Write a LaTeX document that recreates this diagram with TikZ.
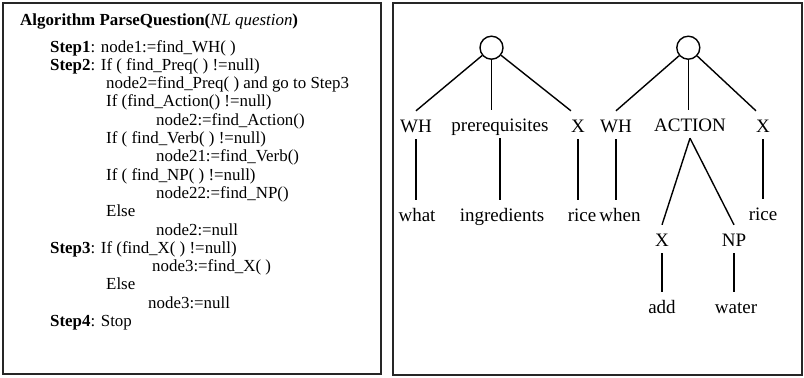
\documentclass[tikz,border=0pt]{standalone}
\usepackage{fontspec}
\setmainfont{Liberation Serif}
\usepackage{tikz}
\usetikzlibrary{positioning,calc}

\begin{document}
\begin{tikzpicture}[x=1bp, y=-1bp,
        frame/.style={draw=black!85, line width=1.6bp},
        codeline/.style={anchor=base west, inner sep=0pt, font=\fontsize{16.9bp}{18.3bp}\selectfont},
        root/.style={draw, circle, minimum size=23bp, inner sep=0pt, line width=1.4bp},
        lbl/.style={anchor=base, inner sep=0pt, text height=21bp, text depth=7bp, font=\fontsize{19bp}{19bp}\selectfont},
        edge/.style={line width=1.4bp}]
        \useasboundingbox (0,0) rectangle (804,377);

        % Frames
        \draw[frame] (3,3) rectangle (381,374);
        \draw[frame] (393,3) rectangle (802,375);

        % Algorithm
        \node (title) [codeline] at (20,25) {\textbf{Algorithm ParseQuestion(}\textit{NL question}\textbf{)}};
        \foreach \dx/\txt [count=\i] in {
            0/{\textbf{Step1}: node1:=find\_WH( )},
            0/{\textbf{Step2}: If ( find\_Preq( ) !=null)},
            56/{node2=find\_Preq( ) and go to Step3},
            56/{If (find\_Action() !=null)},
            106/{node2:=find\_Action()},
            56/{If ( find\_Verb( ) !=null)},
            106/{node21:=find\_Verb()},
            56/{If ( find\_NP( ) !=null)},
            106/{node22:=find\_NP()},
            56/{Else},
            106/{node2:=null},
            0/{\textbf{Step3}: If (find\_X( ) !=null)},
            102/{node3:=find\_X( )},
            56/{Else},
            98/{node3:=null},
            0/{\textbf{Step4}: Stop}}
            \node (line\i) [codeline] at ({50+\dx}, {52+18.3*(\i-1)}) {\txt};

        % Tree 1
        \node (root1) [root] at (491.5,47.7) {};
        \node (wh1) [lbl] at (416,132) {WH};
        \node (prq) [lbl] at (500,131) {prerequisites};
        \node (x1) [lbl] at (578,132) {X};
        \node (what) [lbl] at (417,221) {what};
        \node (ing) [lbl] at (502,221) {ingredients};
        \node (rice1) [lbl] at (582,221) {rice};

        \draw[edge] (root1) -- (wh1.north);
        \draw[edge] (root1) -- (root1 |- prq.north);
        \draw[edge] (root1) -- (x1.north west);
        \draw[edge] (wh1.south) -- (wh1.south |- what.north);
        \draw[edge] (prq.south) -- (prq.south |- ing.north);
        \draw[edge] (x1.south) -- (x1.south |- rice1.north);

        % Tree 2
        \node (root2) [root] at (688.3,47.7) {};
        \node (wh2) [lbl] at (616,132) {WH};
        \node (act) [lbl] at (690,131) {ACTION};
        \node (x2) [lbl] at (763,132) {X};
        \node (when) [lbl] at (620,221) {when};
        \node (rice2) [lbl] at (763,220) {rice};
        \node (x3) [lbl] at (662,246) {X};
        \node (np) [lbl] at (734,246) {NP};
        \node (add) [lbl] at (662,313) {add};
        \node (water) [lbl] at (736,313) {water};

        \draw[edge] (root2) -- (wh2.north);
        \draw[edge] (root2) -- (root2 |- act.north);
        \draw[edge] (root2) -- (x2.north west);
        \draw[edge] (wh2.south) -- (wh2.south |- when.north);
        \draw[edge] (x2.south) -- (x2.south |- rice2.north);
        \draw[edge] (act.south) -- (x3.north);
        \draw[edge] (act.south) -- (np.north);
        \draw[edge] (x3.south) -- (x3.south |- add.north);
        \draw[edge] (np.south) -- (np.south |- water.north);
\end{tikzpicture}
\end{document}
